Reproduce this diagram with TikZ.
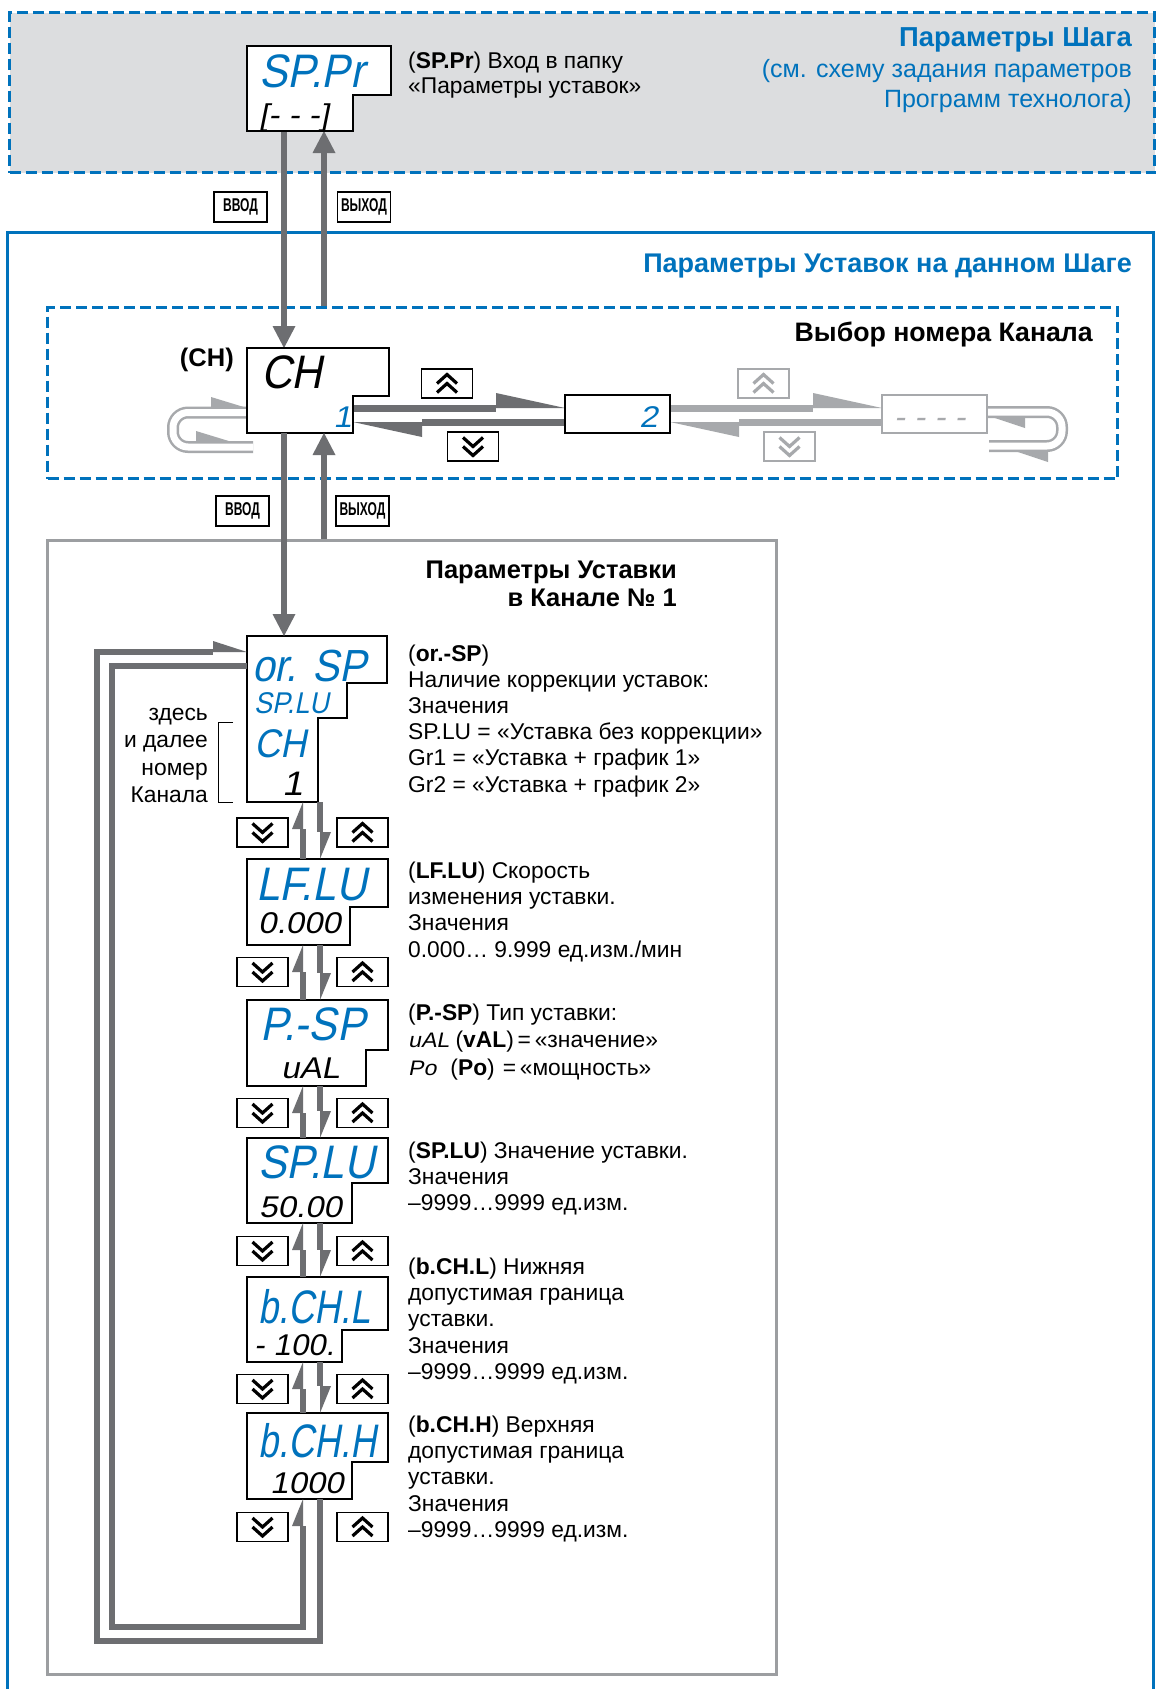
\documentclass[tikz,border=0pt]{standalone}
\usepackage{graphicx}
\usepackage{fontspec}
\setmainfont{Liberation Sans}
\newfontfamily\segB{Liberation Sans}[FakeSlant=0.2,FakeStretch=0.9]
\newfontfamily\segS{Liberation Sans}[FakeSlant=0.2,FakeStretch=1.1]
\newfontfamily\condB{Liberation Sans}[FakeStretch=0.65]
\usetikzlibrary{arrows.meta,calc}
\definecolor{bluec}{RGB}{0,114,188}
\definecolor{panelgray}{RGB}{220,221,223}
\definecolor{arrgray}{RGB}{109,110,113}
\definecolor{ltgray}{RGB}{167,169,172}
\definecolor{boxgray}{RGB}{156,158,161}
% name, x0,y0,x1,y1,xs,ys, colour
\newcommand\dispbox[8]{%
  \draw[disp,draw=#8] (#2,#3) -- (#4,#3) -- (#4,#7) -- (#6,#7) -- (#6,#5) -- (#2,#5) -- cycle;
  \node[inner sep=0pt,outer sep=0pt,minimum width={(#4-#2)*1pt},minimum height={(#5-#3)*1pt},anchor=north west] (#1) at (#2,#3) {};}
\newcommand\chevup[2]{%
  \draw[chev,draw=#2] ($(#1)+(-10,0)$) -- ($(#1)+(0,-9)$) -- ($(#1)+(10,0)$);
  \draw[chev,draw=#2] ($(#1)+(-10,9)$) -- ($(#1)+(0,0)$) -- ($(#1)+(10,9)$);}
\newcommand\chevdown[2]{%
  \draw[chev,draw=#2] ($(#1)+(-10,-9)$) -- ($(#1)+(0,0)$) -- ($(#1)+(10,-9)$);
  \draw[chev,draw=#2] ($(#1)+(-10,0)$) -- ($(#1)+(0,9)$) -- ($(#1)+(10,0)$);}
\newcommand\txtlines[5]{%
  \foreach \l [count=\i] in {#5} {\node[txt,anchor=base west] (#1-\i) at (#2,{#3+(\i-1)*#4}) {\l};}}
\begin{document}
\begin{tikzpicture}[x=1pt,y=-1pt,line join=miter,
  bluedash/.style={draw=bluec,line width=3pt,dash pattern=on 11pt off 5pt},
  disp/.style={line width=1.8pt,fill=white},
  btn/.style={draw=black,line width=1.8pt,fill=white,minimum width=51pt,minimum height=29pt,inner sep=0pt},
  lbl/.style={draw=black,line width=1.8pt,fill=white,minimum width=53pt,minimum height=30pt,inner sep=0pt,font=\condB\bfseries\fontsize{18.5}{18.5}\selectfont},
  chev/.style={line width=3.2pt,line cap=butt,line join=miter},
  txt/.style={inner sep=0pt,font=\fontsize{22.8}{26}\selectfont},
  hd/.style={inner sep=0pt,font=\bfseries\fontsize{25.5}{30}\selectfont},
  segbig/.style={inner sep=0pt,text=bluec,font=\segB\fontsize{47}{47}\selectfont},
  segsm/.style={inner sep=0pt,font=\segS\fontsize{30}{30}\selectfont},
  vflow/.style={draw=arrgray,line width=6.5pt,-{Triangle[length=22pt,width=23pt,line width=0pt]}},
  hflow/.style={draw=arrgray,line width=7pt,-{Triangle[harpoon,length=69pt,width=30pt,line width=0pt]}},
  vharp/.style={draw=arrgray,line width=6.5pt,-{Triangle[harpoon,length=27pt,width=22pt,line width=0pt]}},
  loopharp/.style={draw=arrgray,line width=6.5pt,-{Triangle[harpoon,length=34pt,width=22pt,line width=0pt]}},
  ltband/.style={draw=ltgray,line width=2.5pt,double=white,double distance=7pt,rounded corners=15pt},
  ltbarb/.style={fill=ltgray,draw=none}
]
\useasboundingbox (0,0) rectangle (1157,1689);
\clip (0,0) rectangle (1157,1689);
\fill[white] (0,0) rectangle (1157,1689);

% panels
\node[bluedash,fill=panelgray,minimum width=1145pt,minimum height=160pt,anchor=north west,inner sep=0pt] (steppanel) at (8,11) {};
\draw[draw=bluec,line width=3pt] (7,1700) -- (7,232) -- (1153,232) -- (1153,1700);
\node[bluedash,minimum width=1070pt,minimum height=171pt,anchor=north west,inner sep=0pt] (chpanel) at (46,306) {};
\node[draw=boxgray,line width=3pt,minimum width=729pt,minimum height=1134pt,anchor=north west,inner sep=0pt] (setpanel) at (46,539) {};

% columns and corners
\coordinate (colA) at (284,0);
\coordinate (colB) at (324,0);
\coordinate (colU) at (303,0);
\coordinate (colD) at (320,0);
\coordinate (rowR) at (0,408);
\coordinate (rowL) at (0,422);
\coordinate (oTL) at (97,652);
\coordinate (oBL) at (97,1641);
\coordinate (oBR) at (320,1641);
\coordinate (iTL) at (112,666);
\coordinate (iBL) at (112,1627);
\coordinate (iBR) at (303,1627);
\coordinate (chR) at (353,0);

% displays of the channel row (nodes)
\dispbox{sppr}{247}{46}{391}{131}{353}{95}{black}
\dispbox{ch}{247}{348}{389}{433}{353}{396}{black}
\dispbox{box2}{565}{395}{670}{433}{670}{395}{black}
\dispbox{dashbox}{882}{395}{987}{433}{987}{395}{ltgray}

% vertical enter/exit arrows
\draw[vflow] (sppr.south -| colA) -- (ch.north -| colA);
\draw[vflow] (chpanel.north -| colB) -- (sppr.south -| colB);

% channel selection arrows
\draw[hflow] (chR |- rowR) -- (box2.west |- rowR);
\draw[hflow] (box2.west |- rowL) -- (chR |- rowL);
\draw[hflow,draw=ltgray] (box2.east |- rowR) -- (dashbox.west |- rowR);
\draw[hflow,draw=ltgray] (dashbox.west |- rowL) -- (box2.east |- rowL);

% wrap loops in channel panel
\coordinate (lA) at (173,412.5);
\coordinate (lB) at (173,447);
\coordinate (lC) at (253,447);
\draw[ltband] (ch.west |- lA) -- (lA) -- (lB) -- (lC);
\fill[ltbarb] (211,407.5) -- (211,397) -- (247,408) -- cycle;
\fill[ltbarb] (196,441.5) -- (196,431) -- (232,442) -- cycle;
\coordinate (rA) at (1062,412);
\coordinate (rB) at (1062,446);
\coordinate (rC) at (989,446);
\draw[ltband] (dashbox.east |- rA) -- (rA) -- (rB) -- (rC);
\fill[ltbarb] (1025,416.5) -- (1025,428) -- (989,416) -- cycle;
\fill[ltbarb] (1048,450.5) -- (1048,462) -- (1012,450) -- cycle;

% redraw channel displays on top
\dispbox{sppr}{247}{46}{391}{131}{353}{95}{black}
\dispbox{ch}{247}{348}{389}{433}{353}{396}{black}
\dispbox{box2}{565}{395}{670}{433}{670}{395}{black}
\dispbox{dashbox}{882}{395}{987}{433}{987}{395}{ltgray}

% lower displays
\draw[disp,draw=black] (247,636) -- (387,636) -- (387,683) -- (347,683) -- (347,718) -- (318,718) -- (318,802) -- (247,802) -- cycle;
\node[inner sep=0pt,outer sep=0pt,minimum width=140pt,minimum height=166pt,anchor=north west] (orsp) at (247,636) {};
\dispbox{lflu}{247}{859}{388}{945}{350}{907}{black}
\dispbox{psp}{247}{1000}{388}{1086}{366}{1050}{black}
\dispbox{splu}{247}{1138}{388}{1223}{352}{1183}{black}
\dispbox{bchl}{247}{1277}{388}{1362}{342}{1330}{black}
\dispbox{bchh}{247}{1413}{388}{1499}{352}{1462}{black}

\draw[vflow] (ch.south -| colA) -- (orsp.north -| colA);
\draw[vflow] (setpanel.north -| colB) -- (ch.south -| colB);

% list navigation
\foreach \up/\lo in {orsp/lflu,lflu/psp,psp/splu,splu/bchl,bchl/bchh}{
  \draw[vharp] (\lo.north -| colU) -- (\up.south -| colU);
  \draw[vharp] (\up.south -| colD) -- (\lo.north -| colD);
}
\draw[loopharp] (bchh.south -| colD) -- (oBR) -- (oBL) -- (oTL) -- (orsp.west |- oTL);
\draw[vharp] (orsp.west |- iTL) -- (iTL) -- (iBL) -- (iBR) -- (bchh.south -| colU);

% buttons
\node[btn] (bu1) at (447,383.5) {}; \chevup{bu1}{black}
\node[btn] (bd1) at (473,446.5) {}; \chevdown{bd1}{black}
\node[btn,draw=ltgray] (bu2) at (763.5,383.5) {}; \chevup{bu2}{ltgray}
\node[btn,draw=ltgray] (bd2) at (789.5,446.5) {}; \chevdown{bd2}{ltgray}
\foreach \k/\yy in {1/832.5,2/972,3/1113,4/1251,5/1389,6/1527}{
  \node[btn] (ld\k) at (262.5,\yy) {}; \chevdown{ld\k}{black}
  \node[btn] (ru\k) at (362.5,\yy) {}; \chevup{ru\k}{black}
}

% enter / exit labels
\node[lbl] (vv1) at (240.5,207) {ВВОД};
\node[lbl] (vy1) at (364,207) {ВЫХОД};
\node[lbl] (vv2) at (242.5,511) {ВВОД};
\node[lbl] (vy2) at (362.5,511) {ВЫХОД};

% display contents
\node[segbig,anchor=base west] (s1) at (259,87) {SP.Pr};
\node[segsm,anchor=base west] (s2) at (259,125) {[- - -]};
\node[segbig,text=black,anchor=base west] (s3) at (261,388) {CH};
\node[segsm,text=bluec,anchor=base east] (s4) at (352,427) {1};
\node[segsm,text=bluec,anchor=base east] (s5) at (658,427) {2};
\node[segsm,text=ltgray,anchor=base west] (s6) at (894,427) {- - - -};
\node[segbig,font=\segB\fontsize{45}{45}\selectfont,anchor=base west] (s7) at (252,681) {or. SP};
\node[segbig,font=\segB\fontsize{30}{30}\selectfont,anchor=base west] (s8) at (254,713) {SP.LU};
\node[segbig,font=\segB\fontsize{40}{40}\selectfont,anchor=base west] (s9) at (254,757) {CH};
\node[segsm,font=\segS\fontsize{34}{34}\selectfont,anchor=base east] (s10) at (303,795) {1};
\node[segbig,anchor=base west] (s11) at (256,900) {LF.LU};
\node[segsm,anchor=base west] (s12) at (258,933) {0.000};
\node[segbig,anchor=base west] (s13) at (260,1040) {P.-SP};
\node[segsm,anchor=base east] (s14) at (340,1078) {uAL};
\node[segbig,anchor=base west] (s15) at (258,1178) {SP.LU};
\node[segsm,anchor=base west] (s16) at (259,1217) {50.00};
\node[segbig,anchor=base west] (s17) at (258,1323) {\scalebox{0.85}[1]{b.CH.L}};
\node[segsm,anchor=base west] (s18) at (254,1355) {\scalebox{0.95}[1]{- 100.}};
\node[segbig,anchor=base west] (s19) at (258,1457) {\scalebox{0.85}[1]{b.CH.H}};
\node[segsm,anchor=base west] (s20) at (270,1493) {1000};

% headings
\node[hd,text=bluec,anchor=base east,font=\bfseries\fontsize{27.4}{30}\selectfont] (h1) at (1132,46) {Параметры Шага};
\node[txt,text=bluec,anchor=base east,font=\fontsize{25}{30}\selectfont] (h2) at (1132,77) {(см. схему задания параметров};
\node[txt,text=bluec,anchor=base east,font=\fontsize{25}{30}\selectfont] (h3) at (1132,107) {Программ технолога)};
\node[hd,text=bluec,anchor=base east,font=\bfseries\fontsize{27}{30}\selectfont] (h4) at (1132,272) {Параметры Уставок на данном Шаге};
\node[hd,anchor=base east,font=\bfseries\fontsize{26.7}{30}\selectfont] (h5) at (1093,341) {Выбор номера Канала};
\node[hd,anchor=base east] (h6) at (234,366) {(CH)};
\node[hd,anchor=base east] (h7) at (677,578) {Параметры Уставки};
\node[hd,anchor=base east] (h8) at (677,606) {в Канале № 1};

% descriptions
\txtlines{dsp}{408}{68}{25}{{(\textbf{SP.Pr}) Вход в папку},{«Параметры уставок»}}
\txtlines{dor}{408}{661}{26.2}{{(\textbf{or.-SP})},{Наличие коррекции уставок:},{Значения},{SP.LU = «Уставка без коррекции»},{Gr1 = «Уставка + график 1»},{Gr2 = «Уставка + график 2»}}
\txtlines{dlf}{408}{878}{26.4}{{(\textbf{LF.LU}) Скорость},{изменения уставки.},{Значения},{0.000… 9.999 ед.изм./мин}}
\node[txt,anchor=base west] (dps-1) at (408,1020) {(\textbf{P.-SP}) Тип уставки:};
\node[txt,anchor=base west] (dps-2) at (408,1047.5) {{\segS\fontsize{21}{21}\selectfont uAL} (\textbf{vAL})\,=\,«значение»};
\node[txt,anchor=base west] (dps-3) at (408,1075) {{\segS\fontsize{21}{21}\selectfont Po}\hspace{14pt}(\textbf{Po})\hspace{8pt}=\,«мощность»};
\txtlines{dsl}{408}{1158}{26.4}{{(\textbf{SP.LU}) Значение уставки.},{Значения},{–9999…9999 ед.изм.}}
\txtlines{dbl}{408}{1274}{26.4}{{(\textbf{b.CH.L}) Нижняя},{допустимая граница},{уставки.},{Значения},{–9999…9999 ед.изм.}}
\txtlines{dbh}{408}{1432}{26.4}{{(\textbf{b.CH.H}) Верхняя},{допустимая граница},{уставки.},{Значения},{–9999…9999 ед.изм.}}

% channel note
\node[txt,anchor=base east] (n1) at (208,720) {здесь};
\node[txt,anchor=base east] (n2) at (208,747.6) {и далее};
\node[txt,anchor=base east] (n3) at (208,775.2) {номер};
\node[txt,anchor=base east] (n4) at (208,802.8) {Канала};
\draw[line width=1pt] (233,722) -- (218,722) -- (218,802) -- (233,802);
\end{tikzpicture}
\end{document}
